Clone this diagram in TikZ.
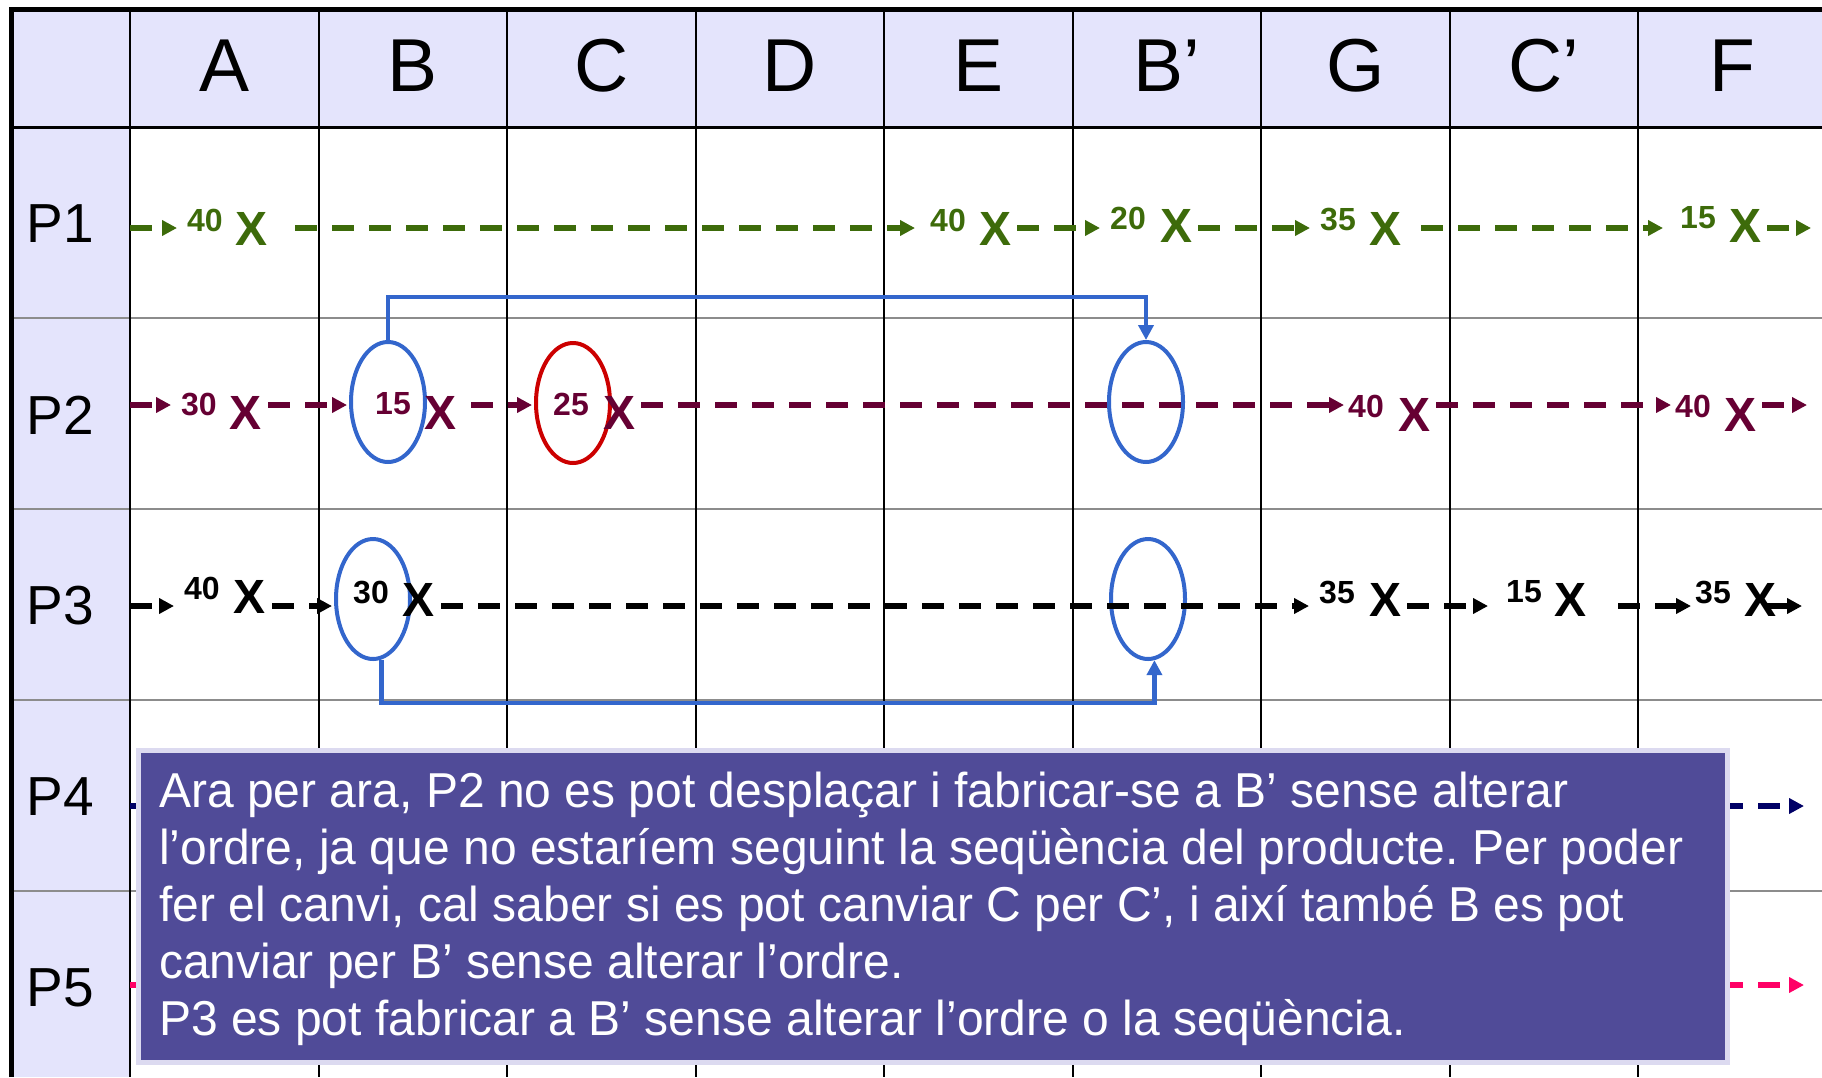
\documentclass[tikz,border=0pt]{standalone}
\usepackage{fontspec}
\setmainfont{Liberation Sans}
\newfontfamily\notefont[FakeStretch=0.98]{Liberation Sans}
\usetikzlibrary{arrows.meta,shapes.geometric}
\definecolor{lav}{RGB}{228,228,252}
\definecolor{gridgray}{RGB}{140,140,140}
\definecolor{pgreen}{RGB}{61,107,10}
\definecolor{pmaroon}{RGB}{102,0,51}
\definecolor{pnavy}{RGB}{0,0,102}
\definecolor{ppink}{RGB}{255,0,102}
\definecolor{linkblue}{RGB}{51,102,204}
\definecolor{cred}{RGB}{204,0,0}
\definecolor{boxfill}{RGB}{80,75,152}
\definecolor{boxedge}{RGB}{220,218,240}
\frenchspacing
\begin{document}
\begin{tikzpicture}[x=1pt,y=-1pt,line join=miter,
  hdr/.style={font=\fontsize{75}{80}\selectfont},
  rowlab/.style={font=\fontsize{55}{60}\selectfont},
  num/.style={font=\bfseries\fontsize{32}{34}\selectfont,text=#1,inner sep=2pt},
  xmk/.style={font=\bfseries\fontsize{48}{50}\selectfont,text=#1,inner sep=2pt},
  flow/.style={draw=#1,line width=5.5pt,dash pattern=on 22pt off 15pt,-{Triangle[length=15pt,width=15pt]},shorten <=4pt,shorten >=8pt},
  ring/.style={draw=#1,line width=4pt,ellipse,minimum width=74pt,minimum height=120pt,inner sep=0pt},
  link/.style={draw=linkblue,line width=4.5pt,-{Triangle[length=15pt,width=15pt]}},
  notebox/.style={fill=boxfill,draw=boxedge,line width=5pt,minimum width=1589pt,minimum height=312pt},
  notetext/.style={text=white,align=left,inner sep=0pt,font=\notefont\fontsize{49}{57}\selectfont}]
\useasboundingbox (0,0) rectangle (1822,1077);
\clip (0,0) rectangle (1822,1077);
% grid
\fill[lav] (11,9) rectangle (1822,127);\fill[lav] (11,127) rectangle (130,1077);
\foreach \y in {318,509,700,891}{\draw[gridgray,line width=2.5pt] (11,\y)--(1822,\y);}
\foreach \i in {0,...,8}{\draw[line width=2pt] ({130+188.5*\i},9)--({130+188.5*\i},1077);}
\draw[line width=3pt] (11,127)--(1822,127);\draw[line width=5pt] (11,1077)--(11,9)--(1822,9);
\foreach \t/\n [count=\i from 0] in {A/A,B/B,C/C,D/D,E/E,B’/Bp,G/G,C’/Cp,F/F}{\node[hdr] (h\n) at ({224.25+188.5*\i},66) {\t};}
\foreach \i in {1,...,5}{\node[rowlab] (p\i) at (60,{224+191*(\i-1)}) {P\i};}
\coordinate (r1) at (0,228);\coordinate (r2) at (0,405);\coordinate (r3) at (0,606);
\coordinate (s1) at (130,228);\coordinate (t1) at (1811,228);\coordinate (s2) at (130,405);\coordinate (t2) at (1807,405);
\coordinate (s3) at (130,606);\coordinate (t3) at (1802,606);\coordinate (s4) at (130,806);\coordinate (t4) at (1804,806);
\coordinate (s5) at (130,985);\coordinate (t5) at (1804,985);
% rings
\node[ring=linkblue] (e2b) at (388,402) {};\node[ring=cred] (e2c) at (573,403) {};\node[ring=linkblue] (e2bp) at (1146,402) {};
\node[ring=linkblue] (e3b) at (373,599) {};\node[ring=linkblue] (e3bp) at (1148,599) {};
% P1
\node[num=pgreen] (n1a) at (205,220) {40};\node[xmk=pgreen] (x1a) at (252,229) {X};
\node[num=pgreen] (n1e) at (948,220) {40};\node[xmk=pgreen] (x1e) at (995,229) {X};
\node[num=pgreen] (n1bp) at (1128,218) {20};\node[xmk=pgreen] (x1bp) at (1176,226) {X};
\node[num=pgreen] (n1g) at (1338,220) {35};\node[xmk=pgreen] (x1g) at (1385,229) {X};
\node[num=pgreen] (n1f) at (1698,218) {15};\node[xmk=pgreen] (x1f) at (1745,226) {X};
\draw[flow=pgreen,shorten <=0pt] (s1)--(n1a.west |- r1);\draw[flow=pgreen,shorten <=25pt,shorten >=13pt] (x1a.east |- r1)--(n1e.west |- r1);
\draw[flow=pgreen] (x1e.east |- r1)--(n1bp.west |- r1);\draw[flow=pgreen] (x1bp.east |- r1)--(n1g.west |- r1);
\draw[flow=pgreen,shorten <=18pt,shorten >=15pt] (x1g.east |- r1)--(n1f.west |- r1);\draw[flow=pgreen,shorten >=0pt] (x1f.east |- r1)--(t1);
% P2
\node[num=pmaroon] (n2a) at (199,404) {30};\node[xmk=pmaroon] (x2a) at (246,413) {X};
\node[num=pmaroon] (n2b) at (393,404) {15};\node[xmk=pmaroon] (x2b) at (441,413) {X};
\node[num=pmaroon] (n2c) at (571,404) {25};\node[xmk=pmaroon] (x2c) at (619,413) {X};
\node[num=pmaroon] (n2g) at (1366,406) {40};\node[xmk=pmaroon] (x2g) at (1414,415) {X};
\node[num=pmaroon] (n2f) at (1693,406) {40};\node[xmk=pmaroon] (x2f) at (1740,415) {X};
\draw[flow=pmaroon,shorten <=0pt] (s2)--(n2a.west |- r2);\draw[flow=pmaroon,shorten >=2pt] (x2a.east |- r2)--(e2b.west |- r2);
\draw[flow=pmaroon,shorten <=12pt,shorten >=2pt] (x2b.east |- r2)--(e2c.west |- r2);\draw[flow=pmaroon,shorten >=2pt] (x2c.east |- r2)--(n2g.west |- r2);
\draw[flow=pmaroon,shorten >=2pt] (x2g.east |- r2)--(n2f.west |- r2);\draw[flow=pmaroon,shorten >=0pt] (x2f.east |- r2)--(t2);
% P3
\node[num=black] (n3a) at (202,588) {40};\node[xmk=black] (x3a) at (250,597) {X};
\node[num=black] (n3b) at (371,592) {30};\node[xmk=black] (x3b) at (419,600) {X};
\node[num=black] (n3g) at (1337,592) {35};\node[xmk=black] (x3g) at (1385,600) {X};
\node[num=black] (n3cp) at (1524,592) {15};\node[xmk=black] (x3cp) at (1570,600) {X};
\node[num=black] (n3f) at (1713,592) {35};\node[xmk=black] (x3f) at (1760,600) {X};
\draw[flow=black,shorten <=0pt] (s3)--(n3a.west |- r3);\draw[flow=black,shorten >=2pt] (x3a.east |- r3)--(e3b.west |- r3);
\draw[flow=black] (x3b.east |- r3)--(n3g.west |- r3);\draw[flow=black,shorten >=16pt] (x3g.east |- r3)--(n3cp.west |- r3);
\draw[flow=black,shorten <=30pt,shorten >=2pt] (x3cp.east |- r3)--(n3f.west |- r3);\draw[flow=black,shorten <=6pt,shorten >=0pt] (x3f.center |- r3)--(t3);
% P4, P5
\draw[flow=pnavy,shorten <=0pt,shorten >=0pt] (s4)--(t4);\draw[flow=ppink,shorten <=0pt,shorten >=0pt] (s5)--(t5);
% moves to B'
\coordinate (top) at (0,297);\coordinate (bot) at (0,703);
\draw[link] (e2b.north)--(e2b.north |- top)--(e2bp.north |- top)--(e2bp.north);
\coordinate (b3) at (e3b.-82);\coordinate (b3p) at (e3bp.-84);
\draw[link] (b3)--(b3 |- bot)--(b3p |- bot)--(b3p);
\node[notebox] (note) at (933,906.5) {};
\node[notetext,anchor=west] (notetxt) at ([xshift=23pt,yshift=-2pt]note.west) {Ara per ara, P2 no es pot desplaçar i fabricar-se a B’ sense alterar\\l’ordre, ja que no estaríem seguint la seqüència del producte. Per poder\\fer el canvi, cal saber si es pot canviar C per C’, i així també B es pot\\canviar per B’ sense alterar l’ordre.\\P3 es pot fabricar a B’ sense alterar l’ordre o la seqüència.};
\end{tikzpicture}
\end{document}
